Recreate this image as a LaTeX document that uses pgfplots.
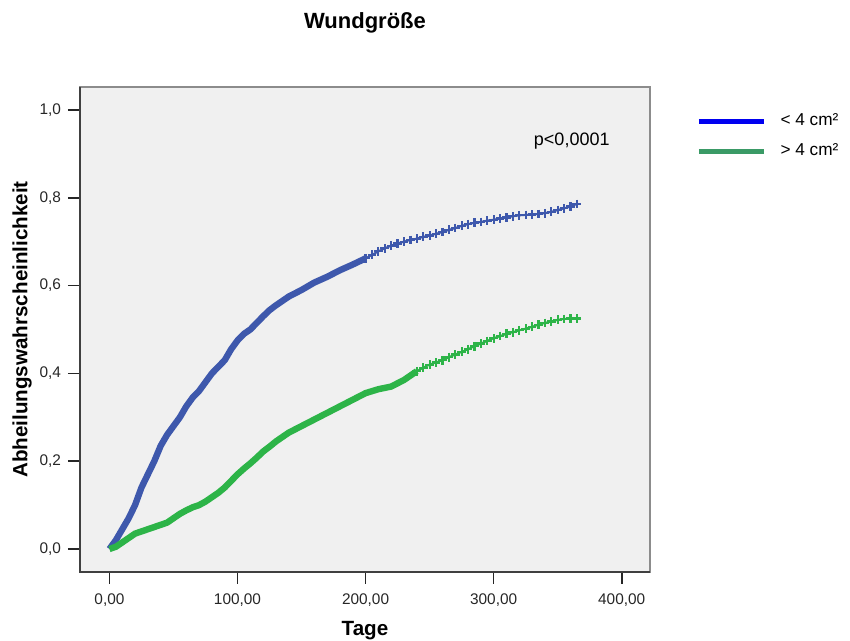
\documentclass[border=0pt]{standalone}
\usepackage{fontspec}
\setmainfont{Liberation Sans}
\usepackage{pgfplots}
\pgfplotsset{compat=1.18}
\definecolor{cblue}{RGB}{62,88,172}
\definecolor{cgreen}{RGB}{45,180,72}
\definecolor{lblue}{RGB}{0,0,240}
\definecolor{lgreen}{RGB}{58,154,102}
\definecolor{bg}{RGB}{240,240,240}
\begin{document}
\begin{tikzpicture}
\begin{axis}[
  scale only axis, width=285pt, height=242.5pt,
  xmin=-23, xmax=422.1, ymin=-0.0524, ymax=1.0524,
  axis background/.style={fill=bg},
  axis line style={draw=black!45, line width=0.7pt},
  tick align=outside, major tick length=6pt,
  tick style={black!85, line width=0.8pt},
  xtick={0,100,200,300,400},
  xticklabels={{0,00},{100,00},{200,00},{300,00},{400,00}},
  ytick={0,0.2,0.4,0.6,0.8,1.0},
  yticklabels={{0,0},{0,2},{0,4},{0,6},{0,8},{1,0}},
  xtick pos=bottom, ytick pos=left,
  ticklabel style={font=\fontsize{7.7}{9}\selectfont, text=black!85},
  xticklabel style={yshift=-1.5pt},
  title={\textbf{Wundgröße}},
  title style={at={(rel axis cs:0.5,1)}, anchor=base, yshift=23pt, font=\fontsize{11}{13}\selectfont},
  xlabel={\textbf{Tage}},
  xlabel style={at={(rel axis cs:0.5,0)}, anchor=base, yshift=-32pt, font=\fontsize{10.3}{12}\selectfont},
  ylabel={\textbf{Abheilungswahrscheinlichkeit}},
  ylabel style={at={(rel axis cs:0,0.5)}, anchor=center, yshift=29pt, font=\fontsize{10.3}{12}\selectfont},
  legend style={at={(rel axis cs:1.07,0.962)}, anchor=north west, draw=none, fill=none,
    font=\fontsize{8.6}{10}\selectfont, row sep=3.5pt},
  legend cell align=left,
  legend image code/.code={\draw[line width=2.6pt] (0pt,0pt) -- (32.5pt,0pt);},
  clip=false,
]
\addlegendimage{lblue}
\addlegendentry{\hspace{5pt}< 4 cm²}
\addlegendimage{lgreen}
\addlegendentry{\hspace{5pt}> 4 cm²}

\addplot[cblue, line width=3.2pt, line join=round, forget plot] coordinates {
(0,0) (5,0.02) (10,0.045) (15,0.07) (20,0.10) (25,0.14) (30,0.17) (35,0.20)
(40,0.235) (45,0.26) (50,0.28) (55,0.30) (60,0.325) (65,0.345) (70,0.36)
(75,0.38) (80,0.40) (85,0.415) (90,0.43) (95,0.455) (100,0.475) (105,0.49)
(110,0.50) (115,0.515) (120,0.53) (125,0.544) (130,0.555) (140,0.575)
(150,0.59) (160,0.607) (170,0.62) (180,0.635) (190,0.648) (200,0.662)
};
\addplot[cblue, line width=1pt, mark=+, mark size=2.2pt, mark options={line width=1.1pt}, forget plot] coordinates {
(200,0.662) (205,0.670) (210,0.678) (215,0.685) (220,0.691) (225,0.696)
(230,0.700) (235,0.704) (240,0.707) (245,0.711) (250,0.714) (255,0.718)
(260,0.722) (265,0.727) (270,0.731) (275,0.736) (280,0.740) (285,0.743)
(290,0.745) (295,0.748) (300,0.750) (305,0.753) (310,0.755) (315,0.758)
(320,0.760) (325,0.761) (330,0.762) (335,0.763) (340,0.765) (345,0.768)
(350,0.772) (355,0.776) (360,0.780) (365,0.786)
};
\addplot[cgreen, line width=3.2pt, line join=round, forget plot] coordinates {
(0,0) (5,0.005) (10,0.015) (15,0.025) (20,0.035) (25,0.04) (30,0.045)
(35,0.05) (40,0.055) (45,0.06) (50,0.07) (55,0.08) (60,0.088) (65,0.095)
(70,0.10) (75,0.108) (80,0.118) (85,0.128) (90,0.14) (95,0.155) (100,0.17)
(105,0.183) (110,0.195) (115,0.208) (120,0.222) (125,0.233) (130,0.245)
(140,0.265) (150,0.28) (160,0.295) (170,0.31) (180,0.325) (190,0.34)
(200,0.355) (210,0.364) (220,0.370) (230,0.385) (240,0.405)
};
\addplot[cgreen, line width=1pt, mark=+, mark size=2.2pt, mark options={line width=1.1pt}, forget plot] coordinates {
(240,0.405) (245,0.413) (250,0.42) (255,0.425) (260,0.43) (265,0.437)
(270,0.443) (275,0.449) (280,0.455) (285,0.462) (290,0.468) (295,0.474)
(300,0.48) (305,0.485) (310,0.49) (315,0.494) (320,0.498) (325,0.502)
(330,0.506) (335,0.511) (340,0.515) (345,0.518) (350,0.522) (355,0.524)
(360,0.525) (365,0.525)
};
\node[font=\fontsize{9}{11}\selectfont, anchor=center] at (axis cs:361,0.93) {p<0,0001};
\draw[black!75, line width=0.8pt] (rel axis cs:0,1) -- (rel axis cs:0,0) -- (rel axis cs:1,0);
\end{axis}
\pgfresetboundingbox
\useasboundingbox (-40pt,-34.5pt) rectangle (385pt,286pt);
\end{tikzpicture}
\end{document}
